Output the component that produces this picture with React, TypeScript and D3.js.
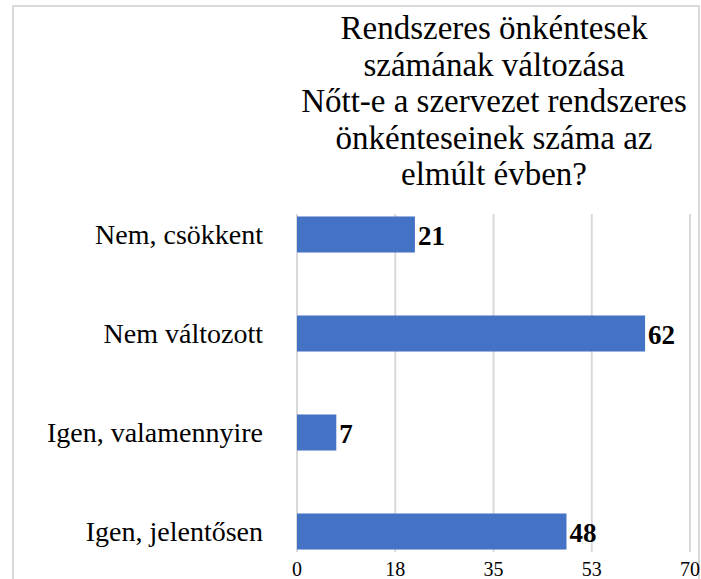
import { useRef, useEffect } from "react";
import * as d3 from "d3";

const titleLines = [
  "Rendszeres önkéntesek",
  "számának változása",
  "Nőtt-e a szervezet rendszeres",
  "önkénteseinek száma az",
  "elmúlt évben?",
];
const categories = ["Nem, csökkent", "Nem változott", "Igen, valamennyire", "Igen, jelentősen"];
const values = [21, 62, 7, 48];
const xTicks = [0, 17.5, 35, 52.5, 70];

const FONT = "Liberation Serif, Tinos, Times New Roman, serif";

function draw(ref: SVGSVGElement | null) {
  const svg = d3.select(ref);
  svg.selectAll("*").remove();

  // outer frame (bottom is cut off in the original)
  svg
    .append("rect")
    .attr("x", 13)
    .attr("y", 6)
    .attr("width", 686)
    .attr("height", 600)
    .attr("fill", "white")
    .attr("stroke", "#d9d9d9")
    .attr("stroke-width", 2);

  // title
  svg
    .append("g")
    .selectAll("text")
    .data(titleLines)
    .join("text")
    .attr("x", 494)
    .attr("y", (_, i) => 39 + i * 36.5)
    .attr("text-anchor", "middle")
    .style("font-family", FONT)
    .style("font-size", "33px")
    .attr("fill", "#000")
    .text((d) => d);

  const x = d3.scaleLinear().domain([0, 70]).range([297, 690]);
  const y = d3
    .scaleBand<string>()
    .domain(categories)
    .range([185, 581])
    .paddingInner(0.636)
    .paddingOuter(0.318);

  const gridTop = 214;
  const gridBottom = 552;

  svg
    .append("g")
    .selectAll("line")
    .data(xTicks)
    .join("line")
    .attr("x1", (d) => x(d))
    .attr("x2", (d) => x(d))
    .attr("y1", gridTop)
    .attr("y2", gridBottom)
    .attr("stroke", "#d9d9d9")
    .attr("stroke-width", 2);

  svg
    .append("g")
    .selectAll("text")
    .data(xTicks)
    .join("text")
    .attr("x", (d) => x(d))
    .attr("y", 576)
    .attr("text-anchor", "middle")
    .style("font-family", FONT)
    .style("font-size", "20px")
    .attr("fill", "#000")
    .text((d) => d3.format(".0f")(d));

  const data = categories.map((c, i) => ({ c, v: values[i] }));

  svg
    .append("g")
    .selectAll("rect")
    .data(data)
    .join("rect")
    .attr("x", x(0))
    .attr("y", (d) => y(d.c)!)
    .attr("width", (d) => x(d.v) - x(0))
    .attr("height", y.bandwidth())
    .attr("fill", "#4472C4");

  // value labels
  svg
    .append("g")
    .selectAll("text")
    .data(data)
    .join("text")
    .attr("x", (d) => x(d.v) + 3)
    .attr("y", (d) => y(d.c)! + y.bandwidth() / 2)
    .attr("dy", "0.4em")
    .style("font-family", FONT)
    .style("font-size", "27px")
    .style("font-weight", "bold")
    .attr("fill", "#000")
    .text((d) => d.v);

  // category labels
  svg
    .append("g")
    .selectAll("text")
    .data(data)
    .join("text")
    .attr("x", 263)
    .attr("y", (d) => y(d.c)! + y.bandwidth() / 2)
    .attr("dy", "0.35em")
    .attr("text-anchor", "end")
    .style("font-family", FONT)
    .style("font-size", "28px")
    .attr("fill", "#000")
    .text((d) => d.c);
}

export default function App() {
  const ref = useRef<SVGSVGElement>(null);

  useEffect(() => {
    document.body.style.margin = "0";
    draw(ref.current);
  }, []);

  return <svg ref={ref} width={701} height={579} style={{ display: "block", background: "white" }}></svg>;
}
